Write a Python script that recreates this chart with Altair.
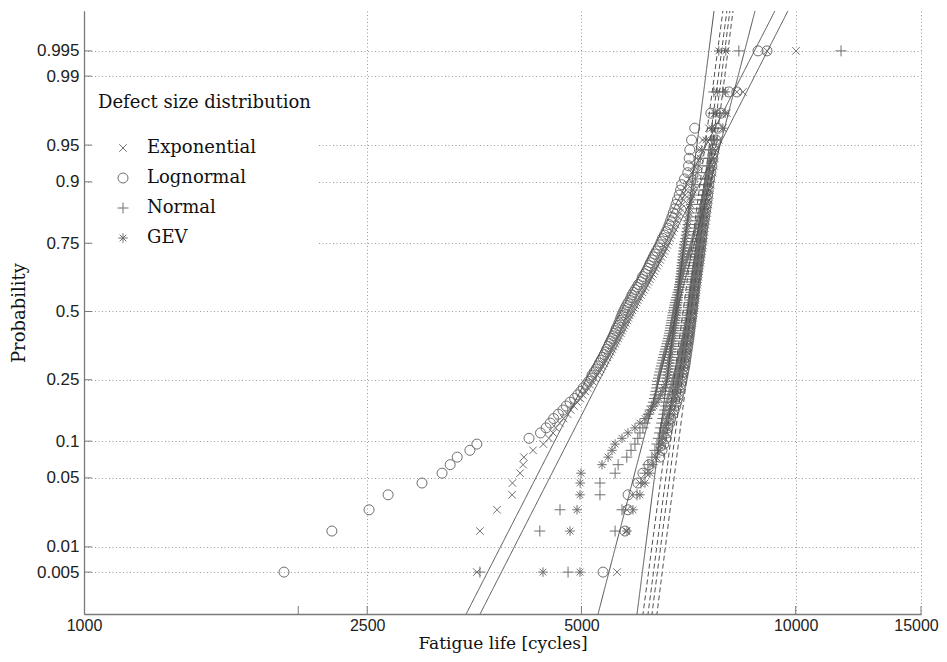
import altair as alt
import pandas as pd
from statistics import NormalDist

# ---------------- data ----------------
dist_order = ["Exponential", "Lognormal", "Normal", "GEV"]

# fatigue lives [cycles], sorted, 100 per series; group A = wide scatter, group B = narrow
exp_a = [3565, 3600, 3805, 3995, 4000, 4100, 4140, 4150, 4275, 4420,
         4500, 4560, 4600, 4660, 4720, 4780, 4830, 4880, 4930, 4980,
         5020, 5060, 5100, 5140, 5180, 5220, 5260, 5290, 5320, 5350,
         5380, 5410, 5440, 5470, 5500, 5525, 5550, 5580, 5600, 5630,
         5650, 5680, 5700, 5725, 5750, 5775, 5800, 5820, 5845, 5870,
         5895, 5920, 5950, 5975, 6000, 6030, 6060, 6090, 6120, 6150,
         6180, 6210, 6240, 6270, 6300, 6330, 6360, 6390, 6420, 6450,
         6480, 6510, 6540, 6570, 6600, 6630, 6660, 6690, 6720, 6750,
         6780, 6810, 6840, 6870, 6900, 6930, 6960, 6990, 7020, 7050,
         7090, 7140, 7190, 7250, 7320, 7400, 7550, 7700, 8266, 10010]
logn_a = [1910, 2230, 2515, 2675, 2985, 3185, 3270, 3345, 3485, 3565,
          4220, 4380, 4460, 4520, 4570, 4640, 4710, 4760, 4820, 4890,
          4940, 4990, 5030, 5080, 5120, 5160, 5175, 5210, 5245, 5276,
          5300, 5330, 5360, 5385, 5414, 5430, 5455, 5475, 5500, 5520,
          5545, 5565, 5585, 5600, 5628, 5645, 5665, 5680, 5700, 5718,
          5740, 5765, 5790, 5815, 5850, 5870, 5890, 5920, 5950, 5984,
          6010, 6060, 6080, 6095, 6141, 6170, 6200, 6225, 6250, 6281,
          6310, 6340, 6375, 6410, 6443, 6470, 6500, 6540, 6575, 6612,
          6640, 6670, 6700, 6730, 6763, 6790, 6820, 6860, 6890, 6917,
          6980, 7053, 7070, 7085, 7099, 7140, 7214, 7600, 8266, 9113]
norm_a = [3600, 4370, 4665, 5309, 5309, 5575, 5630, 5790, 5870, 5945,
          6000, 6042, 6100, 6141, 6180, 6215, 6250, 6280, 6310, 6330,
          6350, 6365, 6380, 6390, 6400, 6415, 6430, 6445, 6460, 6475,
          6490, 6505, 6520, 6535, 6550, 6565, 6580, 6595, 6610, 6625,
          6640, 6650, 6660, 6670, 6680, 6690, 6700, 6710, 6720, 6730,
          6740, 6752, 6764, 6776, 6790, 6805, 6820, 6835, 6850, 6865,
          6880, 6895, 6910, 6925, 6940, 6955, 6970, 6990, 7010, 7030,
          7050, 7070, 7090, 7110, 7130, 7150, 7170, 7190, 7210, 7230,
          7250, 7270, 7290, 7310, 7330, 7350, 7375, 7400, 7425, 7450,
          7475, 7500, 7530, 7560, 7590, 7620, 7640, 7660, 7672, 11580]
gev_a = [4415, 4819, 4929, 4977, 4980, 4993, 5344, 5450, 5520, 5575,
         5701, 5812, 5945, 6042, 6141, 6200, 6261, 6322, 6383, 6425,
         6460, 6490, 6530, 6560, 6591, 6600, 6610, 6618, 6625, 6633,
         6642, 6650, 6660, 6668, 6677, 6685, 6694, 6702, 6710, 6719,
         6728, 6737, 6746, 6755, 6764, 6773, 6782, 6790, 6798, 6807,
         6812, 6818, 6823, 6828, 6834, 6839, 6844, 6849, 6852, 6855,
         6862, 6868, 6875, 6881, 6888, 6894, 6900, 6906, 6913, 6920,
         6929, 6938, 6947, 6956, 6965, 6978, 6991, 7004, 7018, 7031,
         7044, 7057, 7071, 7085, 7099, 7117, 7135, 7155, 7173, 7192,
         7230, 7270, 7310, 7345, 7380, 7480, 7622, 7722, 7760, 7797]
exp_b = [5611, 5775, 5793, 5889, 6042, 6161, 6261, 6363, 6443, 6505,
         6535, 6565, 6595, 6625, 6655, 6680, 6705, 6730, 6760, 6785,
         6803, 6820, 6838, 6855, 6873, 6890, 6908, 6926, 6944, 6962,
         6975, 6990, 7003, 7017, 7030, 7044, 7058, 7071, 7085, 7099,
         7108, 7118, 7127, 7136, 7146, 7155, 7164, 7174, 7183, 7192,
         7199, 7206, 7213, 7220, 7227, 7234, 7241, 7248, 7255, 7262,
         7271, 7281, 7290, 7300, 7309, 7318, 7328, 7337, 7347, 7356,
         7365, 7375, 7384, 7394, 7403, 7413, 7423, 7433, 7442, 7452,
         7466, 7481, 7495, 7510, 7524, 7539, 7553, 7568, 7582, 7597,
         7620, 7645, 7670, 7695, 7722, 7797, 7900, 8003, 8429, 9113]
logn_b = [5362, 5756, 5812, 5815, 6003, 6100, 6220, 6443, 6490, 6527,
          6570, 6591, 6612, 6655, 6677, 6719, 6750, 6785, 6805, 6829,
          6845, 6862, 6880, 6900, 6917, 6930, 6945, 6958, 6972, 6985,
          6995, 7004, 7013, 7022, 7031, 7040, 7049, 7058, 7067, 7076,
          7083, 7090, 7097, 7104, 7111, 7118, 7125, 7132, 7138, 7145,
          7152, 7159, 7166, 7173, 7180, 7187, 7194, 7200, 7207, 7214,
          7223, 7232, 7241, 7250, 7259, 7268, 7277, 7286, 7297, 7308,
          7318, 7328, 7337, 7347, 7356, 7365, 7375, 7384, 7394, 7403,
          7417, 7432, 7447, 7461, 7476, 7490, 7505, 7520, 7534, 7548,
          7570, 7600, 7625, 7650, 7672, 7720, 7772, 7849, 8055, 8853]
norm_b = [4788, 5575, 5701, 5984, 6061, 6141, 6200, 6281, 6342, 6383,
          6410, 6435, 6460, 6482, 6505, 6527, 6548, 6570, 6591, 6612,
          6633, 6655, 6677, 6698, 6719, 6737, 6755, 6772, 6790, 6807,
          6820, 6833, 6847, 6860, 6873, 6887, 6900, 6913, 6927, 6940,
          6951, 6962, 6974, 6985, 6996, 7008, 7019, 7030, 7042, 7053,
          7062, 7071, 7081, 7090, 7099, 7108, 7117, 7127, 7136, 7145,
          7154, 7164, 7173, 7182, 7192, 7201, 7210, 7220, 7229, 7238,
          7248, 7257, 7266, 7276, 7285, 7294, 7304, 7313, 7322, 7332,
          7346, 7360, 7374, 7389, 7403, 7418, 7432, 7447, 7461, 7476,
          7500, 7525, 7549, 7573, 7597, 7660, 7722, 7823, 7900, 8320]
gev_b = [4977, 5793, 5907, 6042, 6141, 6240, 6301, 6363, 6425, 6466,
         6495, 6525, 6555, 6584, 6612, 6634, 6655, 6677, 6698, 6719,
         6737, 6755, 6772, 6790, 6807, 6825, 6843, 6860, 6878, 6896,
         6907, 6918, 6930, 6941, 6952, 6963, 6974, 6986, 6997, 7008,
         7017, 7026, 7035, 7044, 7053, 7062, 7071, 7081, 7090, 7099,
         7108, 7118, 7127, 7136, 7145, 7155, 7164, 7173, 7183, 7192,
         7201, 7210, 7220, 7229, 7238, 7248, 7257, 7266, 7276, 7285,
         7294, 7304, 7313, 7322, 7332, 7342, 7351, 7361, 7370, 7380,
         7394, 7409, 7423, 7438, 7452, 7466, 7481, 7495, 7510, 7524,
         7548, 7573, 7597, 7622, 7647, 7690, 7900, 7960, 7970, 7977]

# fitted lines: life [cycles] at probabilities fit_p (solid = group A, dashed = group B)
fit_p = [0.001, 0.999]
fit_exp_a = [3542, 9949]
fit_logn_a = [3386, 9539]
fit_norm_a = [5231, 8857]
fit_gev_a = [5960, 7716]
fit_norm_b = [6075, 7943]
fit_gev_b = [6175, 8045]
fit_logn_b = [6255, 8124]
fit_exp_b = [6357, 8204]

prob_ticks = [0.005, 0.01, 0.05, 0.1, 0.25, 0.5, 0.75, 0.9, 0.95, 0.99, 0.995]
x_tick_labels = [1000, 2500, 5000, 10000, 15000]
x_tick_marks = [2000, 2500, 5000, 10000, 15000]

# ---------------- tables ----------------
series = [("Exponential", "A", exp_a, fit_exp_a), ("Lognormal", "A", logn_a, fit_logn_a),
          ("Normal", "A", norm_a, fit_norm_a), ("GEV", "A", gev_a, fit_gev_a),
          ("Exponential", "B", exp_b, fit_exp_b), ("Lognormal", "B", logn_b, fit_logn_b),
          ("Normal", "B", norm_b, fit_norm_b), ("GEV", "B", gev_b, fit_gev_b)]
pt_rows, fit_rows = [], []
for dist, grp, vals, fit in series:
    n = len(vals)
    for k, v in enumerate(vals):
        pt_rows.append({"dist": dist, "group": grp, "life": v, "p": (k + 0.5) / n})
    for pp, v in zip(fit_p, fit):
        fit_rows.append({"series": dist + grp, "group": grp, "life": v, "p": pp})
pts = pd.DataFrame(pt_rows)
fits = pd.DataFrame(fit_rows)
z_ticks = [NormalDist().inv_cdf(p) for p in prob_ticks]

# ---------------- styling ----------------
MARK = "#6f6f6f"
LINE = "#505050"
AX = "#7a7a7a"
GRID = "#9a9a9a"
W, H = 837, 603

x_enc = alt.X("life:Q",
              scale=alt.Scale(type="log", domain=[1000, 15000], nice=False),
              axis=alt.Axis(values=x_tick_labels, format="d", title="Fatigue life [cycles]",
                            grid=True, gridDash=[1, 2.5], gridColor=GRID, ticks=False,
                            labelFlush=False, labelOverlap=False, labelPadding=3,
                            labelOffset={"condition": {"test": "datum.value >= 15000", "value": -5},
                                         "value": 0},
                            labelFont="Liberation Sans", labelFontSize=16, labelColor="#222",
                            titleFont="DejaVu Serif", titleFontSize=17, titleFontWeight="normal",
                            titleColor="#111", titlePadding=2.5,
                            domainColor=AX, domainWidth=1.3))
y_enc = alt.Y("z:Q",
              scale=alt.Scale(domain=[-2.99, 2.97], nice=False, zero=False),
              axis=alt.Axis(values=z_ticks, labelExpr="format(cumulativeNormal(datum.value), '.3~f')",
                            title="Probability", grid=True, gridDash=[1, 2.5], gridColor=GRID,
                            ticks=False, labelOverlap=False, labelPadding=5,
                            labelFont="Liberation Sans", labelFontSize=17, labelColor="#222",
                            titleFont="DejaVu Serif", titleFontSize=18, titleFontWeight="normal",
                            titleColor="#111", titlePadding=8,
                            domainColor=AX, domainWidth=1.3))

p_x = "M-0.75,-0.75L0.75,0.75M-0.75,0.75L0.75,-0.75"
p_plus = "M-1.1,0L1.1,0M0,-1.1L0,1.1"
p_star = "M-0.95,0L0.95,0M0,-0.95L0,0.95M-0.67,-0.67L0.67,0.67M-0.67,0.67L0.67,-0.67"

legend = alt.Legend(title="Defect size distribution", orient="none", legendX=8, legendY=77,
                    padding=6, fillColor="white", strokeColor="transparent",
                    titleFont="DejaVu Serif", titleFontSize=18, titleFontWeight="normal",
                    titleColor="#111", titleLimit=400, titlePadding=27,
                    labelFont="DejaVu Serif", labelFontSize=18, labelColor="#111", labelLimit=300,
                    labelOffset=15, symbolOffset=16, rowPadding=12, symbolSize=100,
                    symbolStrokeWidth=1, symbolStrokeColor=MARK)

points = alt.Chart(pts).transform_calculate(z="quantileNormal(datum.p)").mark_point(
    filled=False, color=MARK, strokeWidth=1, size=100, opacity=1
).encode(
    x=x_enc, y=y_enc,
    shape=alt.Shape("dist:N", scale=alt.Scale(domain=dist_order, range=[p_x, "circle", p_plus, p_star]),
                    legend=legend),
)

lines = alt.Chart(fits).transform_calculate(z="quantileNormal(datum.p)").mark_line(
    clip=True, color=LINE, strokeWidth=1
).encode(
    x=x_enc, y=y_enc, detail="series:N",
    strokeDash=alt.StrokeDash("group:N", scale=alt.Scale(domain=["A", "B"], range=[[1, 0], [5, 3]]),
                              legend=None),
)

xticks = alt.Chart(pd.DataFrame({"life": x_tick_marks})).mark_rule(color=AX, strokeWidth=1).encode(
    x=x_enc, y=alt.value(H - 8), y2=alt.value(H))
yticks = alt.Chart(pd.DataFrame({"p": prob_ticks})).transform_calculate(
    z="quantileNormal(datum.p)").mark_rule(color=AX, strokeWidth=1).encode(
    y=y_enc, x=alt.value(0), x2=alt.value(8))

chart = alt.layer(xticks, yticks, points, lines).properties(
    width=W, height=H,
    autosize=alt.AutoSizeParams(type="none"),
    padding={"left": 76, "top": 3, "right": 18, "bottom": 40},
).configure_view(stroke="transparent")

chart.save("out.html", embed_options={"renderer": "svg", "actions": False})
